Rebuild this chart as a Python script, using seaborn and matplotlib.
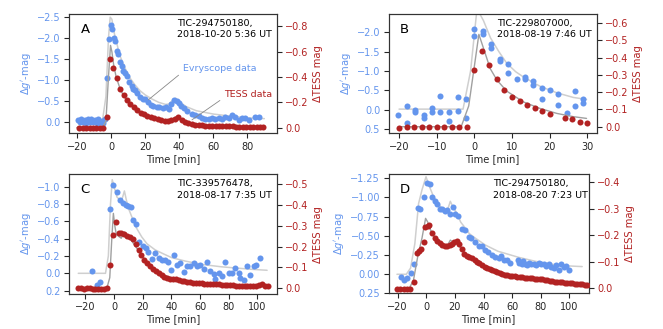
import matplotlib
matplotlib.use("Agg")
import matplotlib.pyplot as plt
import pandas as pd
import seaborn as sns

BLUE = "#6495ED"
RED = "#B22222"
EVRY_MODEL = "#cfcfcf"
TESS_MODEL = "#a0a0a0"

# ---------------- Panel A: TIC-294750180, 2018-10-20 ----------------
A_EVRY_T = [-19.5, -18.5, -17.5, -16.5, -15.5, -14.5, -13.5, -12.5, -11.5, -10.5, -9.5, -8.5,
            -7.5, -6.5, -5.5, -4.5, -3.5, -2.3, -1.3, -0.2, 0.8, 1.9, 2.5, 3.3, 4.3, 5.3, 6.3,
            7.3, 8.2, 9.2, 10.8, 12.2, 13.1, 14.1, 15.1, 17.1, 18.6, 20.0, 21.6, 23.5, 24.9,
            26.9, 28.4, 30.4, 32.4, 34.0, 35.3, 36.7, 38.6, 40.0, 41.2, 42.8, 44.5, 47.5, 49.4,
            51.4, 53.3, 55.3, 57.3, 59.2, 61.2, 63.1, 65.1, 67.1, 69.0, 71.0, 73.0, 74.9, 76.9,
            78.9, 80.8, 84.7, 86.7]
A_EVRY_M = [-0.03, 0.02, -0.06, 0.01, -0.04, 0.03, -0.07, 0.0, -0.05, 0.02, -0.03, 0.04,
            -0.06, 0.01, -0.02, 0.03, -0.05, -1.05, -1.98, -2.32, -2.22, -2.0, -1.92, -1.68,
            -1.62, -1.42, -1.32, -1.22, -1.16, -1.10, -0.94, -0.86, -0.78, -0.76, -0.68, -0.59,
            -0.54, -0.53, -0.48, -0.40, -0.38, -0.35, -0.36, -0.32, -0.36, -0.30, -0.42, -0.52,
            -0.50, -0.45, -0.38, -0.32, -0.25, -0.18, -0.16, -0.14, -0.08, -0.07, -0.07, -0.08,
            -0.06, -0.08, -0.06, -0.12, -0.08, -0.16, -0.10, -0.04, -0.08, -0.08, -0.04, -0.12,
            -0.10]
A_TESS_T = [-18.6, -16.6, -14.6, -12.6, -10.6, -8.6, -6.6, -4.6, -2.6, -0.6, 1.4, 3.4, 5.4,
            7.4, 9.4, 11.4, 13.4, 15.4, 17.4, 19.4, 21.4, 23.4, 25.4, 27.4, 29.4, 31.4, 33.4,
            35.4, 37.4, 39.4, 41.4, 43.4, 45.4, 47.4, 49.4, 51.4, 53.4, 55.4, 57.4, 59.4, 61.4,
            63.4, 65.4, 67.4, 69.4, 71.4, 73.4, 75.4, 77.4, 79.4, 81.4, 83.4, 85.4, 87.4, 89.4]
A_TESS_M = [0.0, 0.0, 0.0, 0.0, 0.0, 0.0, 0.0, 0.0, -0.087, -0.54, -0.47, -0.39, -0.305,
            -0.26, -0.22, -0.185, -0.16, -0.135, -0.115, -0.105, -0.093, -0.082, -0.073,
            -0.068, -0.062, -0.055, -0.051, -0.056, -0.07, -0.08, -0.062, -0.045, -0.035,
            -0.028, -0.024, -0.02, -0.018, -0.016, -0.014, -0.013, -0.012, -0.011, -0.011,
            -0.01, -0.01, -0.009, -0.008, -0.008, -0.007, -0.007, -0.006, -0.005, -0.005,
            -0.004, -0.004]
A_EVRY_FIT_T = [-20, -5, -3, -1.5, -0.5, 0.5, 2, 3.3, 5, 8, 11, 14, 17, 20, 24, 28, 32, 34,
                36, 38, 40, 44, 50, 60, 70, 80, 90]
A_EVRY_FIT_M = [-0.03, -0.03, -0.6, -2.0, -2.5, -2.45, -2.1, -1.89, -1.6, -1.3, -1.05, -0.88,
                -0.74, -0.64, -0.54, -0.46, -0.41, -0.42, -0.5, -0.56, -0.48, -0.36, -0.26,
                -0.18, -0.13, -0.09, -0.07]
A_TESS_FIT_T = [-20, -5, -3, -1.5, -0.3, 0.5, 1.5, 3, 5, 7, 10, 13, 16, 20, 25, 30, 33, 36,
                38, 40, 43, 47, 55, 65, 75, 90]
A_TESS_FIT_M = [0.0, 0.0, -0.05, -0.4, -0.65, -0.6, -0.5, -0.4, -0.32, -0.26, -0.2, -0.16,
                -0.13, -0.1, -0.078, -0.062, -0.058, -0.068, -0.085, -0.075, -0.052, -0.035,
                -0.02, -0.013, -0.009, -0.005]

# ---------------- Panel B: TIC-229807000, 2018-08-19 ----------------
B_EVRY_T = [-20.2, -17.9, -17.9, -15.7, -15.7, -13.5, -13.5, -11.3, -11.3, -9.1, -9.1, -6.7,
            -6.7, -4.4, -4.4, -2.3, -2.3, 0.0, 0.0, 2.2, 2.2, 4.4, 4.4, 6.8, 6.8, 9.0, 9.0,
            11.2, 13.4, 13.4, 15.6, 15.6, 17.9, 17.9, 20.1, 22.3, 22.3, 24.5, 26.7, 26.7,
            28.9, 28.9]
B_EVRY_M = [0.13, -0.11, 0.34, 0.0, 0.06, 0.13, 0.22, -0.06, 0.06, -0.36, 0.06, 0.06, 0.28,
            -0.32, 0.02, -0.27, 0.22, -2.09, -1.89, -2.04, -1.96, -1.70, -1.59, -1.32, -1.26,
            -1.17, -0.96, -0.79, -0.85, -0.79, -0.74, -0.64, -0.57, -0.27, -0.51, -0.42,
            -0.13, 0.07, -0.49, -0.11, -0.27, -0.18]
B_TESS_T = [-20, -18, -16, -14, -12, -10, -8, -6, -4, -2, 0, 2, 4, 6, 8, 10, 12, 14, 16, 18,
            20, 24, 26, 28, 30]
B_TESS_M = [0.01, 0.004, 0.004, 0.004, 0.004, 0.004, 0.004, 0.004, 0.004, 0.004, -0.33,
            -0.44, -0.36, -0.275, -0.215, -0.17, -0.148, -0.125, -0.11, -0.092, -0.073,
            -0.048, -0.043, -0.029, -0.019]
B_EVRY_FIT_T = [-20, -3, -1, 0.7, 2.4, 4.3, 6.5, 8.6, 11, 13, 17.4, 21.9, 26.3, 29.8]
B_EVRY_FIT_M = [-0.02, -0.02, -1.0, -2.6, -2.3, -1.85, -1.5, -1.2, -0.98, -0.85, -0.61,
                -0.44, -0.32, -0.27]
B_TESS_FIT_T = [-20, -3.5, -1.5, 0, 1.2, 2.5, 4.2, 6, 8.6, 13, 17.4, 21.9, 26.3, 29.8]
B_TESS_FIT_M = [0.0, 0.0, -0.12, -0.35, -0.535, -0.45, -0.337, -0.27, -0.206, -0.144,
                -0.106, -0.077, -0.058, -0.048]

# ---------------- Panel C: TIC-339576478, 2018-08-17 ----------------
C_EVRY_T = [-15.6, -11.7, -9.8, -2.8, -0.5, 1.9, 4.2, 6.5, 8.2, 10.0, 11.7, 13.5, 15.2, 17.5,
            20.0, 22.4, 24.0, 26.3, 28.7, 31.0, 33.3, 35.7, 37.5, 39.9, 41.5, 43.8, 46.2,
            48.5, 50.8, 53.1, 55.5, 57.8, 60.1, 62.5, 64.8, 67.1, 69.5, 70.6, 72.9, 75.3,
            77.6, 79.9, 82.3, 84.6, 86.9, 88.1, 90.4, 92.8, 95.1, 97.4, 99.3, 102.1]
C_EVRY_M = [-0.03, 0.13, 0.10, -0.74, -1.02, -0.94, -0.84, -0.81, -0.79, -0.78, -0.76,
            -0.61, -0.57, -0.36, -0.31, -0.29, -0.25, -0.17, -0.24, -0.18, -0.15, -0.15,
            -0.13, -0.04, -0.21, -0.10, -0.12, -0.01, -0.08, -0.08, -0.12, -0.08, -0.10,
            -0.05, -0.13, -0.03, 0.01, 0.06, 0.00, 0.03, -0.13, 0.0, 0.0, -0.06, 0.0, 0.05,
            0.08, -0.09, 0.02, -0.08, -0.10, -0.18]
C_TESS_T = [-25, -23, -21, -19, -17, -15, -13, -11, -9, -7, -5, -2.8, -0.9, 1.1, 3.1, 5.1,
            7.1, 9.1, 11.1, 13.1, 15.1, 17.1, 19.1, 21.1, 23.1, 25.1, 27.1, 29.1, 31.1, 33.1,
            35.1, 37.1, 39.1, 41.1, 43.1, 45.1, 47.1, 49.1, 51.1, 53.1, 55.1, 57.1, 59.1,
            61.1, 63.1, 65.1, 67.1, 69.1, 71.1, 73.1, 75.1, 77.1, 79.1, 81.1, 83.1, 85.1,
            87.1, 89.1, 91.1, 93.1, 95.1, 97.1, 99.1, 101.1, 103.1, 105.1, 107.1]
C_TESS_M = [-0.002, 0.002, 0.003, 0.0, 0.002, 0.004, 0.005, 0.006, 0.004, 0.005, 0.002,
            -0.113, -0.255, -0.316, -0.266, -0.266, -0.26, -0.253, -0.247, -0.235, -0.21,
            -0.182, -0.158, -0.136, -0.12, -0.106, -0.093, -0.08, -0.071, -0.062, -0.055,
            -0.049, -0.045, -0.043, -0.042, -0.038, -0.034, -0.031, -0.029, -0.027, -0.026,
            -0.025, -0.024, -0.023, -0.021, -0.02, -0.019, -0.018, -0.017, -0.017, -0.016,
            -0.015, -0.014, -0.013, -0.012, -0.011, -0.01, -0.009, -0.008, -0.008, -0.008,
            -0.007, -0.008, -0.012, -0.02, -0.01, -0.008]
C_EVRY_FIT_T = [-25, -6, -4, -2.5, -1.3, 0, 2, 4.9, 6, 7.2, 8.5, 10, 12.4, 15, 19.3, 23,
                28.7, 35, 40.3, 50, 62.5, 75, 85.8, 97, 106.8]
C_EVRY_FIT_M = [0.0, 0.0, -0.2, -0.8, -1.08, -1.0, -0.88, -0.83, -0.88, -0.95, -0.85, -0.75,
                -0.65, -0.54, -0.42, -0.34, -0.27, -0.22, -0.18, -0.14, -0.10, -0.075, -0.06,
                -0.045, -0.035]
C_TESS_FIT_T = [-25, -5, -3, -1.5, -0.5, 0.5, 1.5, 3, 5, 7.2, 9, 12, 15, 19, 23, 28, 35, 45,
                60, 80, 107]
C_TESS_FIT_M = [0.0, 0.0, -0.05, -0.25, -0.36, -0.3, -0.26, -0.25, -0.24, -0.27, -0.25,
                -0.23, -0.2, -0.16, -0.125, -0.09, -0.06, -0.04, -0.025, -0.015, -0.008]

# ---------------- Panel D: TIC-294750180, 2018-08-20 ----------------
D_EVRY_T = [-17.5, -15.4, -13.2, -10.8, -8.4, -6.0, -4.2, -1.6, 0.3, 2.3, 4.0, 5.8, 7.5, 9.3,
            11.0, 12.8, 14.7, 16.8, 18.6, 20.3, 22.1, 24.9, 27.3, 29.6, 31.5, 34.3, 36.6,
            39.0, 41.3, 43.4, 45.9, 48.3, 50.6, 52.4, 54.1, 56.4, 58.7, 64.1, 64.8, 65.7,
            66.9, 67.8, 68.8, 70.4, 71.6, 73.4, 75.1, 76.7, 78.6, 80.4, 82.1, 83.7, 85.6,
            87.4, 89.0, 90.7, 92.5, 94.4, 96.0, 97.7, 99.5]
D_EVRY_M = [0.03, 0.08, 0.05, -0.02, -0.14, -0.86, -0.85, -1.01, -1.19, -1.18, -1.01, -0.95,
            -0.92, -0.85, -0.85, -0.82, -0.84, -0.79, -0.87, -0.79, -0.76, -0.59, -0.58,
            -0.49, -0.47, -0.42, -0.37, -0.37, -0.32, -0.29, -0.25, -0.23, -0.21, -0.24,
            -0.19, -0.18, -0.15, -0.19, -0.15, -0.16, -0.13, -0.17, -0.14, -0.12, -0.15,
            -0.13, -0.14, -0.12, -0.15, -0.13, -0.14, -0.11, -0.13, -0.10, -0.08, -0.12,
            -0.06, -0.13, -0.09, -0.11, -0.05]
D_TESS_T = [-20.5, -18.2, -15.8, -13.5, -11.2, -8.9, -6.5, -4.9, -3.5, -1.9, -0.7, 0.9, 2.1,
            4.0, 5.8, 7.5, 9.3, 11.0, 12.8, 14.4, 16.3, 18.0, 19.6, 21.5, 23.1, 24.9, 26.6,
            28.4, 30.0, 32.0, 33.8, 35.4, 37.1, 39.0, 40.8, 42.4, 44.2, 46.0, 47.8, 49.5,
            51.3, 53.0, 54.8, 56.5, 58.3, 60.0, 61.8, 63.5, 65.3, 67.0, 68.8, 70.5, 72.3,
            74.0, 75.8, 77.5, 79.3, 81.0, 82.8, 84.5, 86.3, 88.0, 89.8, 91.5, 93.3, 95.0,
            96.8, 98.5, 100.3, 102.0, 103.8, 105.5, 107.3, 109.0, 110.8, 112.5]
D_TESS_M = [0.004, 0.004, 0.004, 0.004, 0.002, -0.025, -0.132, -0.142, -0.147, -0.176,
            -0.23, -0.235, -0.239, -0.21, -0.19, -0.178, -0.17, -0.163, -0.16, -0.16, -0.163,
            -0.167, -0.176, -0.178, -0.167, -0.147, -0.13, -0.122, -0.117, -0.113, -0.107,
            -0.10, -0.094, -0.087, -0.081, -0.076, -0.072, -0.068, -0.064, -0.061, -0.058,
            -0.055, -0.052, -0.05, -0.048, -0.046, -0.045, -0.044, -0.043, -0.042, -0.041,
            -0.04, -0.039, -0.038, -0.037, -0.036, -0.035, -0.034, -0.032, -0.031, -0.029,
            -0.028, -0.026, -0.025, -0.024, -0.023, -0.022, -0.021, -0.02, -0.019, -0.018,
            -0.017, -0.016, -0.015, -0.014, -0.013]
D_EVRY_FIT_T = [-20.5, -14, -11, -8, -5.4, -3, -0.2, 2, 5.1, 8, 11, 14.5, 16.8, 18.5, 21.5,
                24, 27.3, 30, 34.3, 41.3, 50, 64.6, 76, 87.9, 98, 108.9]
D_EVRY_FIT_M = [0.0, 0.0, -0.08, -0.4, -0.92, -1.1, -1.27, -1.15, -1.01, -0.92, -0.86,
                -0.82, -0.95, -0.88, -0.79, -0.68, -0.60, -0.53, -0.47, -0.38, -0.30, -0.22,
                -0.17, -0.13, -0.11, -0.10]
D_TESS_FIT_T = [-20.5, -12, -9, -6, -3, -0.5, 1, 3, 6, 10, 14.5, 16.8, 18.5, 21.5, 25, 30,
                35, 41, 50, 65, 80, 95, 112]
D_TESS_FIT_M = [0.0, 0.0, -0.03, -0.12, -0.19, -0.264, -0.25, -0.22, -0.19, -0.165, -0.16,
                -0.182, -0.175, -0.17, -0.145, -0.118, -0.1, -0.08, -0.062, -0.045, -0.036,
                -0.025, -0.015]

sns.set_theme(style="ticks")
plt.rcParams["font.family"] = ["DejaVu Sans"]
plt.rcParams.update({
    "font.size": 7,
    "axes.labelsize": 7.2,
    "xtick.labelsize": 7,
    "ytick.labelsize": 7,
    "axes.linewidth": 0.8,
    "axes.edgecolor": "#333333",
    "xtick.major.width": 0.8,
    "ytick.major.width": 0.8,
    "xtick.major.size": 3.5,
    "ytick.major.size": 3.5,
})

fig = plt.figure(figsize=(6.63, 3.29), dpi=100)


def frame(t, v):
    return pd.DataFrame({"t": t, "v": v})


def panel(rect, letter, tic, when, evry, tess, evry_fit, tess_fit,
          xlim, ylim_l, ylim_r, xticks, lticks, rticks):
    ax = fig.add_axes(rect)
    ax2 = ax.twinx()

    sns.lineplot(data=frame(*evry_fit), x="t", y="v", ax=ax, color=EVRY_MODEL,
                 linewidth=1.1, estimator=None, sort=False, legend=False)
    sns.scatterplot(data=frame(*evry), x="t", y="v", ax=ax, color=BLUE, s=19,
                    linewidth=0, legend=False, zorder=3)
    sns.lineplot(data=frame(*tess_fit), x="t", y="v", ax=ax2, color=TESS_MODEL,
                 linewidth=1.0, estimator=None, sort=False, legend=False)
    sns.scatterplot(data=frame(*tess), x="t", y="v", ax=ax2, color=RED, s=19,
                    linewidth=0, legend=False, zorder=3)

    ax.set_xlim(*xlim)
    ax.set_ylim(*ylim_l)
    ax2.set_ylim(*ylim_r)
    ax.set_xticks(xticks)
    ax.set_yticks(lticks)
    ax2.set_yticks(rticks)
    ax.tick_params(axis="y", labelcolor=BLUE, pad=2.5)
    ax2.tick_params(axis="y", labelcolor=RED, pad=2.5)
    ax.tick_params(axis="x", pad=2.5)

    ax.set_xlabel("Time [min]", labelpad=1.5)
    ax.set_ylabel(r"$\Delta g'$-mag", color=BLUE, labelpad=3)
    ax2.set_ylabel("\u0394TESS mag", color=RED, labelpad=3)

    ax.text(0.055, 0.87, letter, transform=ax.transAxes, fontsize=9.5,
            ha="left", va="center", color="black")
    ax.text(0.52, 0.955, f"{tic},\n{when}", transform=ax.transAxes, fontsize=6.8,
            ha="left", va="top", color="black", linespacing=1.3)
    return ax, ax2


axA, axA2 = panel([0.104, 0.595, 0.314, 0.363], "A", "TIC-294750180", "2018-10-20 5:36 UT",
                  (A_EVRY_T, A_EVRY_M), (A_TESS_T, A_TESS_M),
                  (A_EVRY_FIT_T, A_EVRY_FIT_M), (A_TESS_FIT_T, A_TESS_FIT_M),
                  (-24.7, 97.5), (0.28, -2.58), (0.045, -0.90),
                  [-20, 0, 20, 40, 60, 80], [-2.5, -2.0, -1.5, -1.0, -0.5, 0.0],
                  [-0.8, -0.6, -0.4, -0.2, 0.0])

panel([0.586, 0.595, 0.314, 0.363], "B", "TIC-229807000", "2018-08-19 7:46 UT",
      (B_EVRY_T, B_EVRY_M), (B_TESS_T, B_TESS_M),
      (B_EVRY_FIT_T, B_EVRY_FIT_M), (B_TESS_FIT_T, B_TESS_FIT_M),
      (-22.8, 32.5), (0.60, -2.47), (0.038, -0.654),
      [-20, -10, 0, 10, 20, 30], [-2.0, -1.5, -1.0, -0.5, 0.0, 0.5],
      [-0.6, -0.5, -0.4, -0.3, -0.2, -0.1, 0.0])

panel([0.104, 0.106, 0.314, 0.365], "C", "TIC-339576478", "2018-08-17 7:35 UT",
      (C_EVRY_T, C_EVRY_M), (C_TESS_T, C_TESS_M),
      (C_EVRY_FIT_T, C_EVRY_FIT_M), (C_TESS_FIT_T, C_TESS_FIT_M),
      (-31.5, 113.8), (0.24, -1.145), (0.03, -0.55),
      [-20, 0, 20, 40, 60, 80, 100], [-1.0, -0.8, -0.6, -0.4, -0.2, 0.0, 0.2],
      [-0.5, -0.4, -0.3, -0.2, -0.1, 0.0])

panel([0.586, 0.108, 0.302, 0.363], "D", "TIC-294750180", "2018-08-20 7:23 UT",
      (D_EVRY_T, D_EVRY_M), (D_TESS_T, D_TESS_M),
      (D_EVRY_FIT_T, D_EVRY_FIT_M), (D_TESS_FIT_T, D_TESS_FIT_M),
      (-26.4, 113.5), (0.25, -1.305), (0.019, -0.431),
      [-20, 0, 20, 40, 60, 80, 100], [-1.25, -1.0, -0.75, -0.5, -0.25, 0.0, 0.25],
      [-0.4, -0.3, -0.2, -0.1, 0.0])

# Callouts naming the two data sets in panel A
axA.annotate("Evryscope data", xy=(21.9, -0.52), xytext=(42.2, -1.26),
             textcoords="data", color=BLUE, fontsize=6.8, ha="left", va="center",
             arrowprops=dict(arrowstyle="-", color="#888888", lw=0.6,
                             relpos=(0.0, 0.2), shrinkA=1, shrinkB=0))
axA2.annotate("TESS data", xy=(47.5, -0.061), xytext=(66.5, -0.26),
              textcoords="data", color=RED, fontsize=6.8, ha="left", va="center",
              arrowprops=dict(arrowstyle="-", color="#888888", lw=0.6,
                              relpos=(0.0, 0.2), shrinkA=1, shrinkB=0))

fig.savefig("out.png", dpi=100)
